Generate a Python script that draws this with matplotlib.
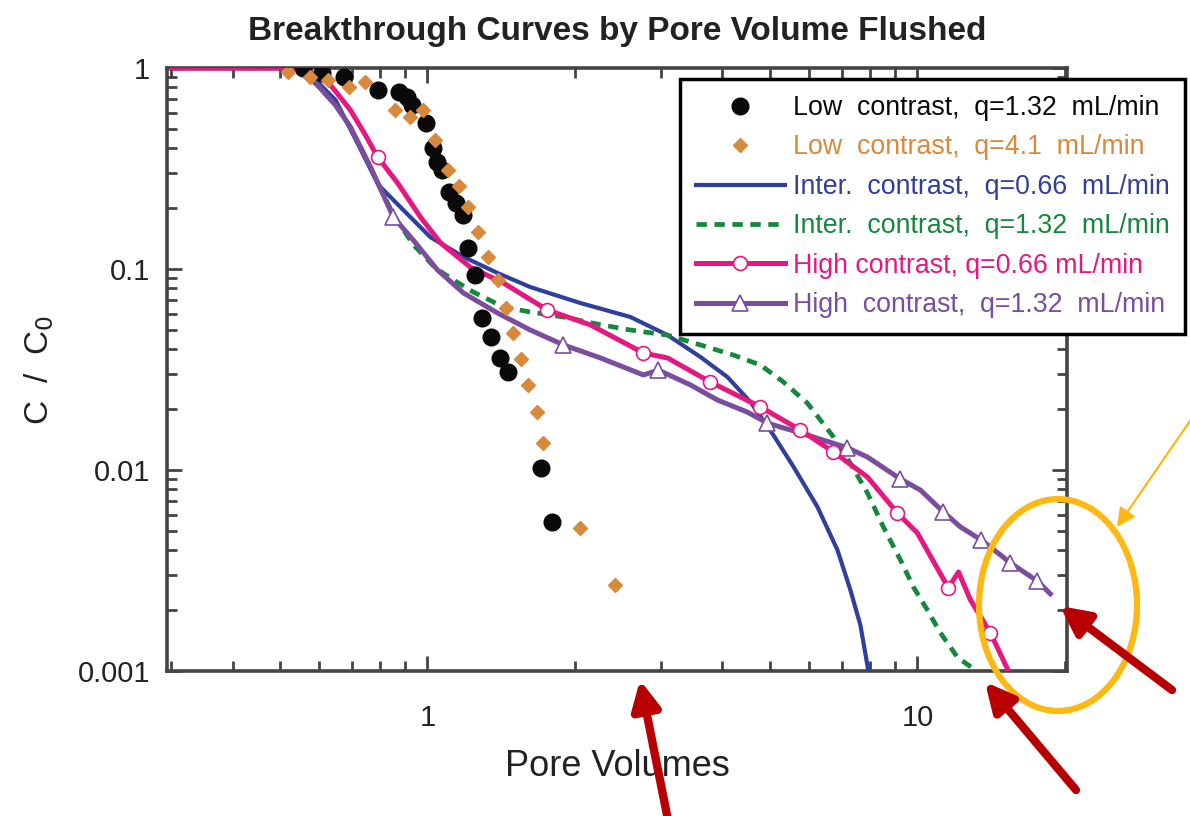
import matplotlib
matplotlib.use("Agg")
import matplotlib.pyplot as plt
from matplotlib.patches import Ellipse, FancyArrowPatch
from matplotlib.ticker import LogLocator, NullFormatter, FixedLocator, FixedFormatter

plt.rcParams['font.family'] = ['Liberation Sans', 'DejaVu Sans']

# --- data ---
# Low contrast, q=1.32 mL/min (black dots)
low132_x = [0.556, 0.610, 0.674, 0.791, 0.873, 0.910, 0.932, 0.991, 1.024, 1.048, 1.073,
            1.104, 1.141, 1.184, 1.212, 1.253, 1.295, 1.345, 1.403, 1.463, 1.701, 1.799]
low132_y = [1.0, 0.944, 0.902, 0.777, 0.760, 0.717, 0.654, 0.532, 0.400, 0.341, 0.311,
            0.242, 0.213, 0.186, 0.127, 0.0933, 0.0571, 0.0459, 0.0361, 0.0307, 0.0102, 0.00551]

# Low contrast, q=4.1 mL/min (orange diamonds)
low41_x = [0.518, 0.577, 0.628, 0.690, 0.747, 0.860, 0.923, 0.981, 1.038, 1.099, 1.157,
           1.212, 1.271, 1.332, 1.390, 1.443, 1.498, 1.555, 1.607, 1.677, 1.725, 2.052, 2.419]
low41_y = [0.955, 0.902, 0.872, 0.804, 0.852, 0.618, 0.570, 0.618, 0.438, 0.311, 0.259,
           0.203, 0.153, 0.115, 0.0882, 0.064, 0.0481, 0.0357, 0.0265, 0.0194, 0.0136, 0.00514, 0.00268]

# Inter. contrast, q=0.66 mL/min (blue solid)
int066_x = [0.30, 0.538, 0.591, 0.649, 0.706, 0.794, 0.881, 1.014, 1.184, 1.390, 1.622, 2.052,
            2.596, 3.090, 3.607, 4.095, 4.563, 5.084, 5.583, 6.252, 6.867, 7.298, 7.650, 7.943]
int066_y = [1.0, 1.0, 0.872, 0.693, 0.464, 0.262, 0.203, 0.144, 0.115, 0.0955, 0.0813, 0.0677,
            0.0577, 0.0469, 0.0365, 0.029, 0.0218, 0.0149, 0.0104, 0.00655, 0.0040, 0.00253, 0.00169, 0.001]

# Inter. contrast, q=1.32 mL/min (green dashed)
int132_x = [0.30, 0.525, 0.551, 0.596, 0.649, 0.696, 0.765, 0.852, 0.936, 1.038, 1.130, 1.241,
            1.429, 1.622, 1.895, 2.223, 2.596, 3.090, 3.607, 4.212, 4.782, 5.328, 5.964, 6.741,
            7.298, 7.907, 8.521, 9.233, 9.813, 10.48, 11.14, 12.07, 13.13]
int132_y = [1.0, 1.0, 0.977, 0.823, 0.654, 0.509, 0.318, 0.186, 0.132, 0.101, 0.0882, 0.0768,
            0.0647, 0.0611, 0.0577, 0.0532, 0.0497, 0.0469, 0.0419, 0.0373, 0.0333, 0.0274, 0.0215, 0.0146,
            0.0108, 0.00769, 0.00521, 0.00357, 0.00262, 0.00201, 0.00155, 0.00117, 0.00101]

# High contrast, q=0.66 mL/min (magenta, open circles)
hi066_x = [0.30, 0.525, 0.577, 0.634, 0.696, 0.747, 0.791, 0.869, 0.968, 1.063, 1.224, 1.429,
           1.757, 2.151, 2.760, 3.090, 3.780, 4.782, 5.770, 6.741, 7.907, 9.104, 10.0, 11.57,
           12.13, 12.83, 14.09, 15.34]
hi066_y = [1.0, 1.0, 0.955, 0.823, 0.618, 0.464, 0.361, 0.268, 0.181, 0.135, 0.102, 0.0852,
           0.0625, 0.0527, 0.0382, 0.0361, 0.0274, 0.0206, 0.0158, 0.0123, 0.00923, 0.00611, 0.00486, 0.00259,
           0.00311, 0.00226, 0.00155, 0.001]
hi066_marks = [6, 12, 14, 16, 17, 18, 19, 21, 23, 26]

# High contrast, q=1.32 mL/min (purple, open triangles)
hi132_x = [0.30, 0.525, 0.551, 0.596, 0.649, 0.696, 0.765, 0.852, 0.936, 1.048, 1.184, 1.390,
           1.622, 1.895, 2.255, 2.760, 2.960, 3.441, 3.907, 4.499, 4.942, 5.770, 7.197, 7.907,
           9.233, 10.14, 11.30, 12.24, 13.51, 14.77, 15.48, 17.58, 18.68]
hi132_y = [1.0, 1.0, 0.977, 0.823, 0.654, 0.509, 0.322, 0.181, 0.139, 0.0989, 0.076, 0.0604,
           0.0497, 0.0419, 0.0361, 0.0297, 0.0314, 0.0265, 0.0223, 0.0194, 0.0171, 0.0153, 0.0129, 0.0116,
           0.00902, 0.00795, 0.00618, 0.00521, 0.00448, 0.00378, 0.00345, 0.0028, 0.00242]
hi132_marks = [7, 13, 16, 20, 22, 24, 26, 28, 30, 31]

labels = ['Low  contrast,  q=1.32  mL/min',
          'Low  contrast,  q=4.1  mL/min',
          'Inter.  contrast,  q=0.66  mL/min',
          'Inter.  contrast,  q=1.32  mL/min',
          'High contrast, q=0.66 mL/min',
          'High  contrast,  q=1.32  mL/min']

c_black = '#0a0a0a'
c_orange = '#d8893c'
c_blue = '#2f3f9c'
c_green = '#17873e'
c_magenta = '#e6177f'
c_purple = '#7a4d9e'

fig = plt.figure(figsize=(11.9, 8.16), dpi=100)
ax = fig.add_axes([167/1190, 1 - 671/816, 900/1190, 603/816])

ax.plot(int066_x, int066_y, '-', color=c_blue, lw=3.0, label=labels[2], zorder=3)
ax.plot(int132_x, int132_y, '--', color=c_green, lw=3.4, dashes=(2.2, 1.6), label=labels[3], zorder=3)
ax.plot(hi132_x, hi132_y, '-', color=c_purple, lw=3.6, marker='^', markevery=hi132_marks,
        ms=11, mfc='white', mec=c_purple, mew=1.2, label=labels[5], zorder=4)
ax.plot(hi066_x, hi066_y, '-', color=c_magenta, lw=3.6, marker='o', markevery=hi066_marks,
        ms=10, mfc='white', mec=c_magenta, mew=1.2, label=labels[4], zorder=4)
ax.plot(low132_x, low132_y, 'o', color=c_black, ms=12, label=labels[0], zorder=5)
ax.plot(low41_x, low41_y, 'D', color=c_orange, ms=7.5, label=labels[1], zorder=5)

ax.set_xscale('log')
ax.set_yscale('log')
ax.set_xlim(0.294, 20.2)
ax.set_ylim(0.001, 1)

ax.xaxis.set_major_locator(FixedLocator([1, 10]))
ax.xaxis.set_major_formatter(FixedFormatter(['1', '10']))
ax.xaxis.set_minor_locator(LogLocator(base=10, subs=range(2, 10)))
ax.xaxis.set_minor_formatter(NullFormatter())
ax.yaxis.set_major_locator(FixedLocator([0.001, 0.01, 0.1, 1]))
ax.yaxis.set_major_formatter(FixedFormatter(['0.001', '0.01', '0.1', '1']))
ax.yaxis.set_minor_locator(LogLocator(base=10, subs=range(2, 10)))
ax.yaxis.set_minor_formatter(NullFormatter())

ax.tick_params(which='both', direction='in', top=True, right=True, color='#444444', width=2)
ax.tick_params(which='major', length=11)
ax.tick_params(which='minor', length=7)
ax.tick_params(axis='x', which='major', labelsize=21, pad=24, labelcolor='#222222')
ax.tick_params(axis='y', which='major', labelsize=21, pad=12, labelcolor='#222222')
for sp in ax.spines.values():
    sp.set_linewidth(2.6)
    sp.set_color('#444444')

ax.set_xlabel('Pore Volumes', fontsize=26, color='#222222', labelpad=12)
ax.set_ylabel('C  /  C$_0$', fontsize=24, color='#222222', labelpad=16)
ax.set_title('Breakthrough Curves by Pore Volume Flushed', fontsize=24, fontweight='bold',
             color='#222222', pad=20)

handles, labs = ax.get_legend_handles_labels()
order = [labs.index(l) for l in labels]
leg = fig.legend([handles[i] for i in order], [labs[i] for i in order],
                 loc='upper left', bbox_to_anchor=(680/1190, 1 - 79/816),
                 fontsize=19.3, frameon=True, fancybox=False, framealpha=1, handlelength=3.3,
                 handletextpad=0.3, labelspacing=0.5, borderpad=0.6, borderaxespad=0)
leg.get_frame().set_edgecolor('black')
leg.get_frame().set_linewidth(2.5)
leg.set_zorder(10)
for txt, col in zip(leg.get_texts(), [c_black, c_orange, c_blue, c_green, c_magenta, c_purple]):
    txt.set_color(col)

# overlay annotations (drawn in figure pixel space)
ov = fig.add_axes([0, 0, 1, 1], zorder=20)
ov.set_xlim(0, 1190)
ov.set_ylim(816, 0)
ov.axis('off')
ov.patch.set_alpha(0)

ov.add_patch(Ellipse((1058, 605), 158, 212, fill=False, ec='#fdb813', lw=4.5))
ov.add_patch(FancyArrowPatch((1192, 418), (1117, 527), arrowstyle='-|>', mutation_scale=28,
                             color='#fdb813', lw=1.6, shrinkA=0, shrinkB=0))
for tail, head in [((668, 820), (640, 680)), ((1076, 790), (985, 682)), ((1172, 690), (1060, 606))]:
    ov.add_patch(FancyArrowPatch(tail, head, arrowstyle='-|>', mutation_scale=42,
                                 color='#b80000', lw=6, shrinkA=0, shrinkB=0))

fig.savefig('out.png', dpi=100)
